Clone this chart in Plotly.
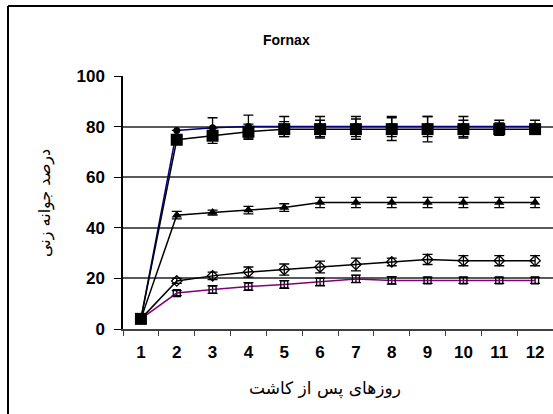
import plotly.graph_objects as go

days = [str(d) for d in range(1, 13)]

# germination percentage per day for each treatment, with error bars
circle_vals = [4, 78.5, 79.5, 80, 80, 80, 80, 80, 80, 80, 80, 80]
circle_err = [0, 0, 4, 4.5, 4, 4, 4, 4, 4, 4, 2.5, 2.5]

square_vals = [4, 74.8, 76.4, 78, 79, 79, 79, 79, 79, 79, 79, 79]
square_err = [0, 0.5, 3, 3, 3, 3.5, 4, 4.5, 5, 3.5, 2.5, 2]

tri_vals = [4, 45, 46, 47, 48, 50, 50, 50, 50, 50, 50, 50]
tri_err = [0, 1.5, 1, 1.5, 1.5, 2, 2, 2, 2, 2, 2, 2]

diam_vals = [4, 19, 21, 22.5, 23.5, 24.5, 25.5, 26.5, 27.5, 27, 27, 27]
diam_err = [0, 1, 1.5, 2, 2.2, 2.3, 2.5, 1.5, 2, 2, 2, 2]

osq_vals = [4, 14.2, 15.6, 16.8, 17.6, 18.6, 19.8, 19.2, 19.2, 19.2, 19.2, 19.2]
osq_err = [0, 1, 1.5, 1.5, 1.5, 1.5, 1.5, 1.5, 1.2, 1.2, 1.2, 1.2]

y_ticks = [0, 20, 40, 60, 80, 100]

FONT = "Liberation Sans, Arial, sans-serif"
FA_FONT = "DejaVu Sans, sans-serif"


def err(vals):
    return dict(type="data", array=vals, visible=True, color="black",
                thickness=1.3, width=5)


series = [
    (osq_vals, osq_err, "#800080", dict(symbol="square-open", size=7,
                                          color="black", line=dict(width=1.3))),
    (diam_vals, diam_err, "black", dict(symbol="diamond-open", size=8,
                                         color="black", line=dict(width=1.3))),
    (tri_vals, tri_err, "black", dict(symbol="triangle-up", size=9, color="black")),
    (circle_vals, circle_err, "#000080", dict(symbol="circle", size=7, color="black")),
    (square_vals, square_err, "black", dict(symbol="square", size=12, color="black")),
]

fig = go.Figure()
for vals, e, lc, mk in series:
    fig.add_trace(go.Scatter(
        x=days, y=vals, mode="lines+markers",
        line=dict(color=lc, width=1.5),
        marker=mk, error_y=err(e), showlegend=False, cliponaxis=False,
    ))

fig.update_layout(
    width=553, height=414,
    margin=dict(l=123, r=0, t=76, b=85),
    paper_bgcolor="white", plot_bgcolor="white",
    font=dict(family=FONT, color="black"),
    xaxis=dict(
        type="category", range=[-0.5, 11.5],
        showline=True, linecolor="#404040", linewidth=1.5,
        ticks="outside", tickson="boundaries", ticklen=5, tickcolor="#404040",
        tickfont=dict(size=17, family=FONT, weight="bold"),
        ticklabelstandoff=7,
        showgrid=False, zeroline=False,
    ),
    yaxis=dict(
        range=[0, 100], tickvals=y_ticks,
        showline=True, linecolor="black", linewidth=1.5,
        ticks="outside", ticklen=7, tickcolor="black",
        tickfont=dict(size=17, family=FONT, weight="bold"),
        ticklabelstandoff=6,
        showgrid=True, gridcolor="#5a5a5a", gridwidth=1.5,
        zeroline=False,
    ),
    annotations=[
        dict(text="<b>Fornax</b>", xref="paper", yref="paper",
             x=(286 - 123) / 430, y=(329 - 30) / 253, showarrow=False,
             font=dict(size=14, family=FONT)),
        dict(text="روزهای پس از کاشت", xref="paper", yref="paper",
             x=(325 - 123) / 430, y=(329 - 401) / 253, showarrow=False,
             font=dict(size=17, family=FA_FONT)),
        dict(text="درصد جوانه زنی", xref="paper", yref="paper",
             x=(33 - 123) / 430, y=(329 - 203) / 253, showarrow=False,
             textangle=-90, font=dict(size=16, family=FA_FONT)),
    ],
    shapes=[
        dict(type="line", xref="paper", yref="paper",
             x0=(8 - 123) / 430, x1=(8 - 123) / 430,
             y0=(329 - 6) / 253, y1=(329 - 420) / 253,
             line=dict(color="black", width=2)),
        dict(type="line", xref="paper", yref="paper",
             x0=(8 - 123) / 430, x1=1.05,
             y0=(329 - 6) / 253, y1=(329 - 6) / 253,
             line=dict(color="black", width=2)),
    ],
)

fig.write_html("out.html")
